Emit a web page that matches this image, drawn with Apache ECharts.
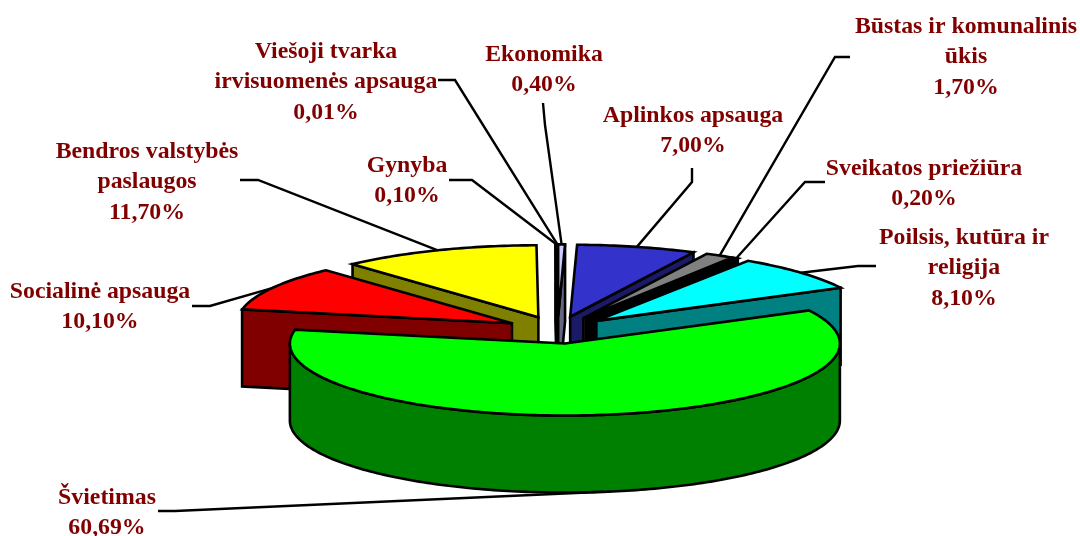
<!DOCTYPE html>
<html>
<head>
<meta charset="utf-8">
<script src="https://cdn.jsdelivr.net/npm/echarts@6/dist/echarts.min.js"></script>
<style>html,body{margin:0;padding:0;background:#fff}#c{width:1080px;height:536px}</style>
</head>
<body>
<div id="c"></div>
<script>
// Data, in pie order (clockwise from 12 o'clock)
const names = ['Ekonomika','Aplinkos apsauga','Būstas ir komunalinis\nūkis','Sveikatos priežiūra','Poilsis, kutūra ir\nreligija','Švietimas','Socialinė apsauga','Bendros valstybės\npaslaugos','Gynyba','Viešoji tvarka\nirvisuomenės apsauga'];
const shares = [0.40,7.00,1.70,0.20,8.10,60.69,10.10,11.70,0.10,0.01];

// Styles
const topColors  = ['#CCCCFF','#3333CC','#808080','#000000','#00FFFF','#00FF00','#FF0000','#FFFF00','#9999FF','#993366'];
const sideColors = ['#666680','#1A1A66','#404040','#000000','#008080','#008000','#800000','#808000','#4D4D80','#4D1A33'];

// Layout (pixels)
const cx = 557.5, cy = 330, rx = 275, ry = 72, depthPx = 77, explode = 0.19;
const labelPos = [[544,70],[693,131],[966,57],[924,184],[964,268],[107,513],[100,307],[147,182],[407,181],[326,82]];
const leaderStart = [
  [[543,103],[545,125]],
  [[692,168],[692,182]],
  [[850,57],[835,57]],
  [[825,182],[805,182]],
  [[876,266],[858,266]],
  [[158,511],[175,511]],
  [[192,306],[210,306]],
  [[240,180],[258,180]],
  [[449,180],[472,180]],
  [[438,80],[455,80]]
];

// Cumulative angles from values
const rows = [];
let acc = 0;
shares.forEach((v, i) => { rows.push([i, acc * 3.6, (acc + v) * 3.6, v]); acc += v; });

const depth = depthPx / ry;
const rad = d => d * Math.PI / 180;
function apexOf(s, e) {
  const m = rad((s + e) / 2);
  return [explode * Math.sin(m), explode * Math.cos(m)];
}
function rim(a, t, drop) {
  return [a[0] + Math.sin(rad(t)), a[1] + Math.cos(rad(t)) - (drop || 0)];
}
function arc(a, s, e, drop) {
  const out = [], n = Math.max(1, Math.ceil(Math.abs(e - s)));
  for (let k = 0; k <= n; k++) out.push(rim(a, s + (e - s) * k / n, drop));
  return out;
}

function renderSlice(params, api) {
  const i = api.value(0), s = api.value(1), e = api.value(2);
  const a = apexOf(s, e), m = (s + e) / 2;
  const z = Math.round(1000 - 900 * Math.cos(rad(m)));
  const lineStyle = c => ({ fill: c, stroke: '#000', lineWidth: 2.6, lineJoin: 'miter', miterLimit: 6 });
  const poly = (pts, c, dz) => ({
    type: 'polygon', z2: z + dz,
    shape: { points: pts.map(p => api.coord(p)) },
    style: lineStyle(c)
  });
  const children = [];
  const down = p => [p[0], p[1] - depth];
  if (Math.sin(rad(s)) < 0) {
    const q = rim(a, s);
    children.push(poly([a, q, down(q), down(a)], sideColors[i], 0));
  }
  if (Math.sin(rad(e)) > 0) {
    const q = rim(a, e);
    children.push(poly([a, q, down(q), down(a)], sideColors[i], 0));
  }
  const fs = Math.max(s, 90), fe = Math.min(e, 270);
  if (fe > fs) {
    children.push(poly(arc(a, fs, fe).concat(arc(a, fs, fe, depth).reverse()), sideColors[i], 1));
  }
  children.push(poly([a].concat(arc(a, s, e)), topColors[i], 2));
  return { type: 'group', children };
}

function renderLeader(params, api) {
  const i = api.value(0), s = api.value(1), e = api.value(2);
  const a = apexOf(s, e), m = (s + e) / 2;
  const end = api.coord(rim(a, m, Math.cos(rad(m))<-0.5 ? depth : 0));
  return {
    type: 'polyline', z2: 3000,
    shape: { points: leaderStart[i].concat([end]) },
    style: { fill: null, stroke: '#000', lineWidth: 2.4 }
  };
}

function renderLabel(params, api) {
  const i = api.value(0), v = api.value(3);
  return {
    type: 'text', z2: 4000,
    style: {
      text: names[i] + '\n' + v.toFixed(2).replace('.', ',') + '%',
      x: labelPos[i][0], y: labelPos[i][1],
      align: 'center', verticalAlign: 'middle',
      lineHeight: 30.5,
      fill: '#800000',
      font: 'bold 23.8px "Liberation Serif", serif'
    }
  };
}

const chart = echarts.init(document.getElementById('c'), null, { renderer: 'canvas' });
chart.setOption({
  animation: false,
  backgroundColor: '#fff',
  grid: { left: 0, right: 0, top: 0, bottom: 0 },
  xAxis: { type: 'value', show: false, min: -cx / rx, max: (1080 - cx) / rx },
  yAxis: { type: 'value', show: false, min: -(536 - cy) / ry, max: cy / ry },
  series: [
    { type: 'custom', coordinateSystem: 'cartesian2d', clip: false, silent: true, data: rows, renderItem: renderSlice, encode: { x: [], y: [] } },
    { type: 'custom', coordinateSystem: 'cartesian2d', clip: false, silent: true, data: rows, renderItem: renderLeader, encode: { x: [], y: [] } },
    { type: 'custom', coordinateSystem: 'cartesian2d', clip: false, silent: true, data: rows, renderItem: renderLabel, encode: { x: [], y: [] } }
  ]
});
</script>
</body>
</html>
